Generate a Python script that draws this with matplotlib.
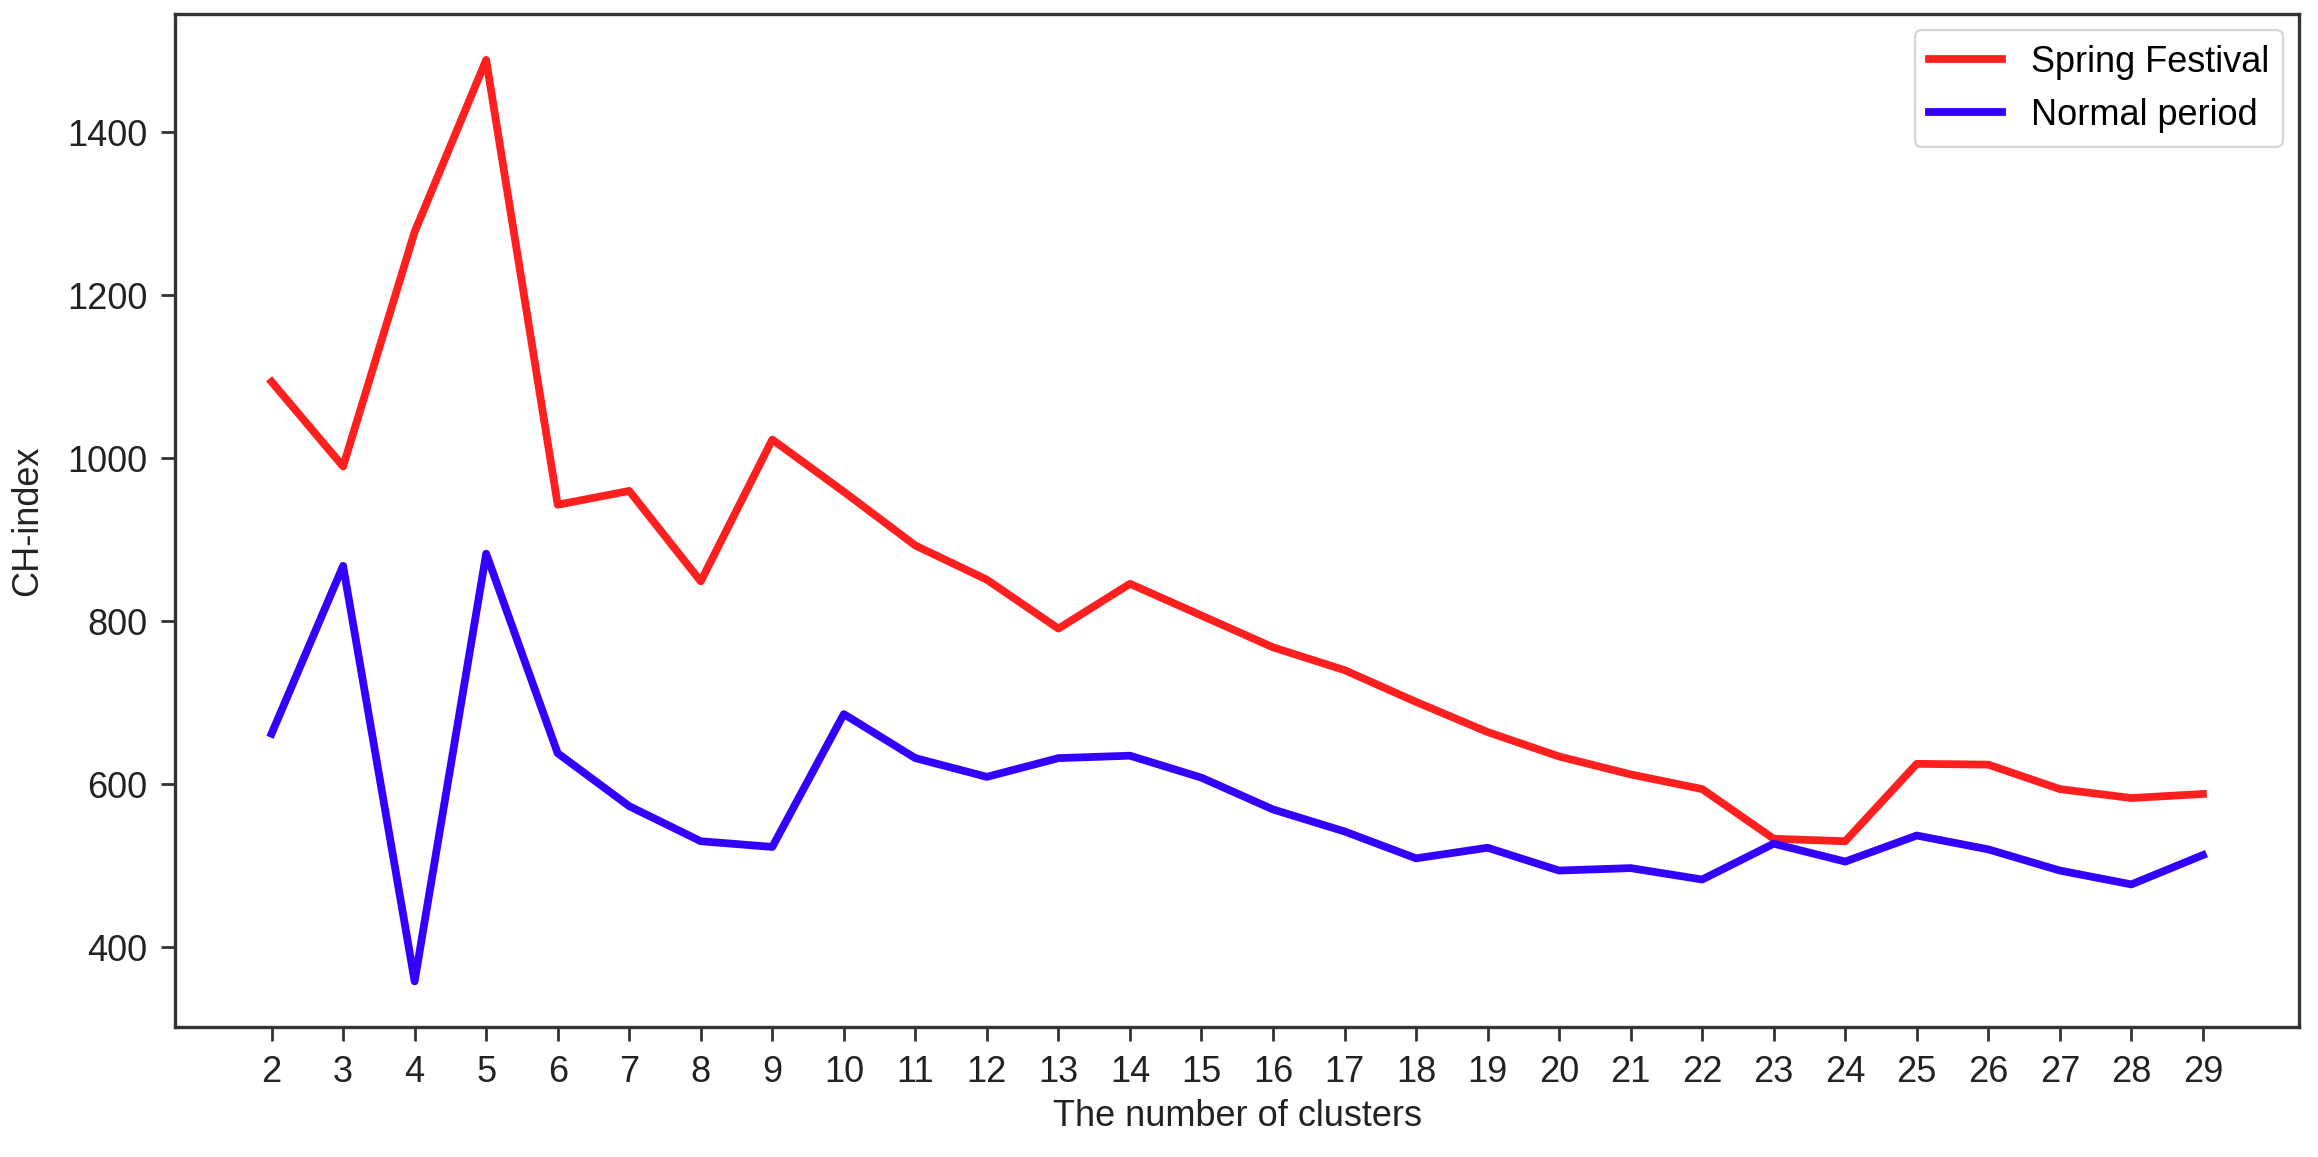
import matplotlib
matplotlib.use("Agg")
import matplotlib.pyplot as plt

# cluster counts on the x axis
clusters = list(range(2, 30))

# CH-index
spring_festival = [1094, 990, 1278, 1489, 943, 960, 849, 1023, 959, 893,
                   851, 791, 846, 807, 768, 740, 701, 664, 634, 612,
                   594, 533, 530, 625, 624, 594, 583, 588]
normal_period = [662, 868, 358, 883, 638, 573, 530, 523, 686, 632,
                 609, 632, 635, 608, 569, 542, 509, 522, 494, 497,
                 483, 527, 505, 537, 520, 494, 477, 513]

plt.rcParams['font.family'] = ['Liberation Sans', 'DejaVu Sans']
plt.rcParams['font.size'] = 13

fig = plt.figure(figsize=(11.59, 5.785), dpi=200)
ax = fig.add_axes([0.0755, 0.112, 0.9165, 0.876])

ax.plot(clusters, spring_festival, color='#ff1f1f', linewidth=2.8, label='Spring Festival')
ax.plot(clusters, normal_period, color='#3300ff', linewidth=2.8, label='Normal period')

ax.set_xticks(clusters)
ax.set_yticks([400, 600, 800, 1000, 1200, 1400])
ax.set_xlabel('The number of clusters', color='#222222', labelpad=3)
ax.set_ylabel('CH-index', color='#222222', labelpad=8)

for s in ax.spines.values():
    s.set_linewidth(1.2)
    s.set_color('#333333')
ax.tick_params(length=5, width=1.0, color='#333333', labelcolor='#222222', pad=5)

leg = ax.legend(loc='upper right', frameon=True, fancybox=True, borderaxespad=0.45)
leg.get_frame().set_edgecolor('#cccccc')
leg.get_frame().set_linewidth(0.8)

fig.savefig('out.png', dpi=200)
